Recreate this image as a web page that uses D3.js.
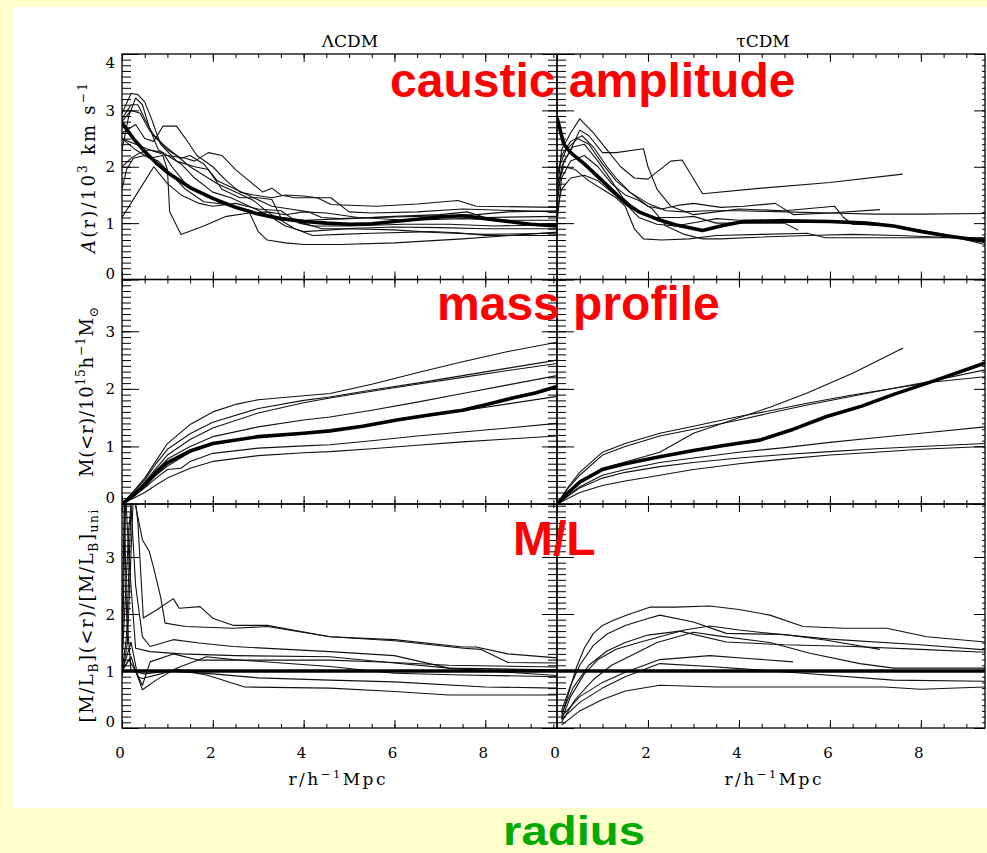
<!DOCTYPE html>
<html><head><meta charset="utf-8">
<script src="https://cdn.jsdelivr.net/npm/d3@7"></script>
<style>body{margin:0;background:#ffffcc}svg{display:block}</style>
</head><body><svg id="c" width="987" height="853"></svg>
<script>
// ---------- data ----------
const modelNames = ["\u039BCDM", "\u03C4CDM"];
const xTickLabels = [0, 2, 4, 6, 8];
const yTickLabelsAmp = [0, 1, 2, 3, 4];
const yTickLabelsMass = [0, 1, 2, 3];
const yTickLabelsML = [0, 1, 2, 3];
const panelTitles = ["caustic amplitude", "mass profile", "M/L"];
const bottomTitle = "radius";

// ΛCDM caustic amplitude  [r, A/10^3 km/s]
const lcdmAmpMean = [[0,2.78],[0.25,2.5],[0.5,2.27],[0.75,2.07],[1,1.9],[1.5,1.63],[2,1.44],[2.5,1.28],[3,1.16],[3.5,1.08],[4,1.03],[4.5,1.0],[5,0.98],[5.5,0.99],[6,1.03],[6.5,1.07],[7,1.11],[7.5,1.13],[8,1.08],[8.5,1.03],[9,0.98],[9.58,0.95]];
const lcdmAmpClusters = [
 [[0,2.95],[0.2,3.3],[0.35,3.28],[0.5,3.15],[0.65,2.85],[0.85,2.4],[1.2,2.1],[1.6,2.0],[1.9,1.95],[2.2,1.6],[2.6,1.45],[3.0,1.45],[3.3,1.42],[3.5,1.1],[4.0,1.05],[5,1.08],[6,1.12],[7,1.15],[7.6,1.2],[8.0,1.1],[9.58,1.12]],
 [[0,2.3],[0.15,2.9],[0.3,3.22],[0.45,3.1],[0.6,2.7],[0.8,2.3],[1.0,2.2],[1.3,2.05],[1.6,1.8],[2.0,1.55],[2.4,1.45],[2.8,1.3],[3.2,1.15],[3.6,0.95],[4.0,0.85],[5,0.9],[6,0.88],[7,0.83],[8,0.8],[9.58,0.82]],
 [[0,2.6],[0.3,2.75],[0.5,2.5],[0.7,2.45],[0.9,2.72],[1.2,2.72],[1.4,2.5],[1.65,2.2],[2.0,2.0],[2.3,1.75],[2.6,1.55],[2.9,1.5],[3.3,1.45],[3.6,1.5],[4.0,1.48],[4.3,1.45],[4.6,1.33],[5.6,1.3],[6.5,1.34],[7.4,1.4],[7.8,1.3],[9.58,1.28]],
 [[0,2.0],[0.2,2.15],[0.4,2.25],[0.6,2.3],[0.8,2.25],[1.0,2.2],[1.4,2.15],[1.6,2.1],[1.9,2.25],[2.2,2.2],[2.5,1.95],[2.8,1.75],[3.1,1.55],[3.3,1.62],[3.5,1.5],[3.8,1.45],[4.6,1.45],[5.0,1.2],[5.5,1.18],[6.5,1.2],[7.5,1.25],[9.58,1.2]],
 [[0,2.5],[0.3,2.3],[0.6,2.15],[0.9,2.2],[1.0,1.95],[1.05,1.2],[1.3,0.8],[1.8,0.95],[2.3,1.12],[2.8,1.18],[3.2,1.2],[3.6,1.15],[4.0,1.2],[4.5,1.18],[5.2,1.1],[6.3,1.05],[7.5,1.08],[8.5,1.05],[9.58,1.05]],
 [[0,1.1],[0.35,1.55],[0.7,2.0],[1.0,1.7],[1.3,1.5],[1.7,1.35],[2.0,1.3],[2.5,1.35],[3.0,1.25],[3.5,1.22],[3.9,1.0],[4.2,0.95],[5.0,0.95],[6.2,0.98],[7.2,0.98],[8.2,0.95],[9.58,0.97]],
 [[0,1.6],[0.1,1.95],[0.25,2.15],[0.5,2.2],[0.8,2.1],[1.1,1.85],[1.4,1.6],[1.8,1.38],[2.3,1.33],[2.8,1.2],[3.0,0.85],[3.2,0.7],[3.6,0.65],[4.0,0.62],[4.8,0.62],[6,0.65],[7.5,0.72],[9.58,0.84]],
 [[0,2.8],[0.2,3.0],[0.4,2.95],[0.6,2.65],[0.9,2.4],[1.2,2.2],[1.5,2.0],[1.8,1.85],[2.1,1.7],[2.5,1.55],[2.9,1.4],[3.2,1.2],[3.5,1.05],[3.8,0.9],[4.2,0.78],[4.8,0.8],[5.5,0.82],[6.8,0.85],[7.4,0.83],[8,0.78],[9.58,0.78]],
 [[0,2.85],[0.2,3.1],[0.35,3.1],[0.5,2.85],[0.7,2.55],[1.0,2.3],[1.3,2.15],[1.5,2.2],[1.8,2.05],[2.1,1.75],[2.5,1.6],[2.9,1.45],[3.3,1.3],[3.7,1.25],[4.1,1.2],[4.4,1.1],[4.8,1.08],[5.5,1.1],[6.5,1.12],[7.8,1.15],[8.5,1.2],[9.58,1.22]],
 [[0,2.5],[0.3,2.4],[0.6,2.3],[0.9,2.25],[1.1,2.0],[1.4,1.7],[1.8,1.5],[2.2,1.35],[2.6,1.25],[3.0,1.15],[3.5,1.1],[4.0,1.0],[4.4,0.9],[4.8,0.9],[6,0.93],[7,0.92],[8,0.9],[9.58,0.9]]
];

// τCDM caustic amplitude
const tcdmAmpMean = [[0,2.87],[0.15,2.4],[0.3,2.25],[0.6,2.05],[1.0,1.75],[1.5,1.36],[1.8,1.2],[2.2,1.07],[2.6,0.97],[3.2,0.87],[3.6,0.95],[4.1,1.03],[5,1.04],[6,1.03],[6.8,1.0],[7.4,0.95],[8,0.85],[8.6,0.77],[9.41,0.68]];
const tcdmAmpClusters = [
 [[0,1.5],[0.1,2.3],[0.3,2.6],[0.5,2.85],[0.8,2.6],[1.1,2.3],[1.4,2.0],[1.7,1.8],[2.0,1.78],[2.5,2.1],[2.75,2.12],[3.2,1.52],[4.5,1.62],[6,1.72],[7.6,1.87]],
 [[0,1.3],[0.1,2.0],[0.3,2.3],[0.5,2.65],[0.7,2.55],[1.0,2.25],[1.3,2.25],[1.9,2.32],[2.0,2.0],[2.2,1.6],[2.5,1.3],[3.0,1.15],[3.5,1.2],[4.0,1.25],[5,1.22],[6.1,1.3],[6.3,1.1],[6.5,0.98],[7.5,0.95],[8.5,0.8],[9.41,0.62]],
 [[0,1.8],[0.1,2.2],[0.3,2.45],[0.55,2.55],[0.8,2.35],[1.1,2.0],[1.3,1.8],[1.6,1.55],[2.0,1.3],[2.3,1.25],[2.7,1.32],[3.0,1.35],[3.6,1.28],[4.1,1.3],[4.8,1.35],[5.2,1.15],[6,1.18],[7.1,1.24]],
 [[0,1.0],[0.1,1.8],[0.3,2.1],[0.6,2.2],[0.9,2.0],[1.2,1.7],[1.5,1.5],[1.8,1.4],[2.1,1.25],[2.4,0.95],[2.8,0.8],[3.2,0.72],[3.6,0.72],[4.4,0.75],[5.5,0.78],[6.5,0.8],[7.5,0.78],[8.5,0.75],[9.41,0.74]],
 [[0,1.5],[0.15,2.1],[0.35,2.35],[0.6,2.4],[0.9,2.1],[1.2,1.75],[1.45,1.45],[1.7,1.25],[2.1,1.1],[2.7,1.1],[3.0,1.12],[3.5,1.0],[4.2,1.0],[5.0,1.0],[5.3,0.88]],
 [[0,1.7],[0.15,2.0],[0.4,1.95],[0.7,1.75],[1.0,1.6],[1.3,1.45],[1.5,1.3],[1.7,0.9],[1.9,0.72],[2.3,0.7],[2.9,0.72],[3.5,0.78],[4.5,0.8],[5.5,0.82],[5.9,0.74],[7,0.74],[8.5,0.74],[9.41,0.73]],
 [[0,1.9],[0.2,2.3],[0.45,2.5],[0.7,2.4],[1.0,2.05],[1.3,1.75],[1.6,1.55],[2.0,1.35],[2.4,1.22],[2.8,1.2],[3.3,1.22],[4.0,1.22],[5,1.2],[6,1.18],[7,1.16],[8,1.16],[9.41,1.17]],
 [[0,1.2],[0.1,1.6],[0.3,1.8],[0.6,1.85],[0.9,1.75],[1.2,1.55],[1.5,1.35],[1.8,1.1],[2.2,0.98],[2.6,0.95],[3.1,1.02],[3.5,1.08],[4.0,1.05],[4.5,1.05],[5,1.07]]
];

// ΛCDM mass profile  [r, M/10^15]
const lcdmMassMean = [[0,0],[0.25,0.15],[0.5,0.33],[0.75,0.55],[1,0.72],[1.5,0.92],[2,1.05],[3,1.17],[4,1.23],[4.58,1.27],[5.3,1.35],[6.05,1.46],[6.8,1.55],[7.5,1.63],[8.1,1.74],[8.6,1.84],[9.1,1.93],[9.58,2.04]];
const lcdmMassClusters = [
 [[0,0],[0.25,0.22],[0.5,0.45],[0.75,0.75],[1,1.05],[1.5,1.38],[2,1.6],[2.5,1.73],[3,1.81],[4,1.88],[4.58,1.92],[5.5,2.08],[6.5,2.28],[7.5,2.47],[8.5,2.65],[9.58,2.81]],
 [[0,0],[0.25,0.2],[0.5,0.42],[0.75,0.7],[1,0.95],[1.5,1.22],[2,1.42],[3,1.66],[4,1.8],[4.58,1.86],[5.5,1.98],[6.5,2.1],[7.5,2.23],[8.5,2.36],[9.58,2.5]],
 [[0,0],[0.25,0.18],[0.5,0.36],[0.75,0.58],[1,0.78],[1.5,1.0],[2,1.17],[3,1.34],[4,1.46],[4.58,1.51],[5.5,1.63],[6.5,1.77],[7.5,1.92],[8.5,2.07],[9.58,2.23]],
 [[0,0],[0.25,0.14],[0.5,0.3],[0.75,0.5],[1,0.66],[1.5,0.9],[2,1.04],[3,1.16],[4,1.23],[4.58,1.27],[5.5,1.38],[6.5,1.5],[7.5,1.62],[8.5,1.74],[9.58,1.87]],
 [[0,0],[0.25,0.13],[0.5,0.28],[0.75,0.45],[1,0.6],[1.3,0.62],[1.5,0.74],[2,0.88],[3,0.97],[4,1.01],[4.58,1.03],[5.5,1.1],[6.5,1.18],[7.5,1.25],[8.5,1.32],[9.58,1.4]],
 [[0,0],[0.25,0.1],[0.5,0.2],[0.75,0.33],[1,0.45],[1.5,0.62],[2,0.74],[3,0.84],[4,0.89],[4.58,0.91],[5.5,0.96],[6.5,1.02],[7.5,1.08],[8.5,1.13],[9.58,1.18]],
 [[0,0],[0.25,0.17],[0.5,0.38],[0.75,0.62],[1,0.85],[1.5,1.12],[2,1.32],[3,1.58],[4,1.76],[4.58,1.84],[5.5,1.96],[6.5,2.08],[7.5,2.2],[8.5,2.32],[9.58,2.44]]
];

// τCDM mass profile
const tcdmMassMean = [[0,0],[0.25,0.2],[0.5,0.38],[1,0.6],[1.5,0.7],[2.26,0.82],[3,0.93],[3.7,1.02],[4.46,1.11],[5.2,1.3],[5.93,1.52],[6.7,1.7],[7.39,1.9],[8.4,2.17],[9.41,2.45]];
const tcdmMassClusters = [
 [[0,0],[0.25,0.3],[0.5,0.55],[1,0.9],[1.5,1.05],[2.26,1.23],[3.0,1.35],[4.0,1.52],[4.68,1.62],[5.5,1.75],[6.4,1.88],[7,1.96],[8.27,2.12],[9.41,2.21]],
 [[0,0],[0.25,0.28],[0.5,0.5],[1,0.85],[1.5,1.0],[2.26,1.18],[3,1.3],[4,1.46],[4.68,1.58],[5.5,1.72],[6.4,1.86],[7.0,1.95],[8.27,2.14],[9.41,2.33]],
 [[0,0],[0.25,0.22],[0.5,0.4],[1,0.62],[1.5,0.73],[2.26,0.9],[3,1.23],[4,1.5],[4.68,1.68],[5.5,1.93],[6.5,2.27],[7.61,2.71]],
 [[0,0],[0.5,0.3],[1,0.5],[1.5,0.6],[2.26,0.72],[3,0.8],[4,0.9],[5,0.98],[6,1.07],[7,1.15],[8,1.23],[9.41,1.34]],
 [[0,0],[0.5,0.28],[1,0.45],[1.5,0.55],[2.26,0.65],[3,0.72],[4,0.8],[5,0.86],[6,0.91],[7,0.96],[8,1.0],[9.41,1.05]],
 [[0,0],[0.5,0.2],[1,0.32],[1.5,0.4],[2.26,0.5],[3,0.6],[4,0.7],[5,0.78],[6,0.85],[7,0.9],[8,0.95],[9.41,1.0]]
];

// ΛCDM mass-to-light ratio
const lcdmMLMean = [[0,1],[9.58,1]];
const lcdmMLClusters = [
 [[0,0.9],[0.12,1.5],[0.25,4.1],[0.35,3.7],[0.45,3.3],[0.6,3.1],[0.7,2.8],[0.85,2.3],[0.95,1.84],[1.4,1.78],[2.45,1.75],[3.2,1.78],[4.58,1.6],[6,1.55],[7.5,1.42],[7.8,1.42],[8.5,1.3],[9.58,1.23]],
 [[0,1.1],[0.15,3.5],[0.25,4.3],[0.35,3.6],[0.47,1.93],[0.76,2.07],[1.13,2.27],[1.26,2.1],[1.72,2.13],[2.01,1.92],[2.46,1.8],[3.2,1.8],[4.58,1.6],[6,1.53],[7.52,1.4],[7.9,1.38],[8.5,1.15],[9.58,1.14]],
 [[0,1.0],[0.1,1.6],[0.2,3.9],[0.3,2.5],[0.45,1.6],[0.62,1.43],[1.13,1.55],[1.7,1.49],[2.45,1.43],[4.58,1.34],[6,1.27],[7.2,1.05],[9.58,0.92]],
 [[0,1.0],[0.08,4.1],[0.15,3.0],[0.3,1.4],[0.62,1.34],[1.3,1.3],[2.5,1.27],[4.58,1.25],[6,1.14],[7.2,1.05],[9.58,1.02]],
 [[0,1.0],[0.2,1.25],[0.3,1.0],[0.45,0.75],[0.62,1.16],[1.13,1.3],[1.7,1.19],[4.58,1.19],[6,1.15],[7.2,1.1],[9.58,1.07]],
 [[0,1.0],[0.15,1.2],[0.3,1.0],[0.45,0.67],[0.75,0.84],[1.2,1.05],[1.86,1.25],[2.45,1.2],[4.58,1.08],[6,0.96],[7.5,0.93],[9.58,0.9]],
 [[0,1.0],[0.2,1.5],[0.35,0.9],[0.45,0.87],[0.85,0.95],[1.2,1.03],[1.9,0.92],[2.7,0.72],[4.58,0.7],[6,0.64],[7.2,0.58],[9.58,0.58]],
 [[0,1.2],[0.05,4.1],[0.1,2.0],[0.2,1.0],[0.5,0.95],[1.0,1.0],[2,0.95],[3,0.88],[4.58,0.84],[6,0.81],[8,0.72],[9.58,0.7]]
];

// τCDM mass-to-light ratio
const tcdmMLMean = [[0,1],[9.41,1]];
const tcdmMLClusters = [
 [[0.1,0.2],[0.25,0.6],[0.43,1.07],[0.6,1.4],[0.8,1.66],[1.0,1.8],[1.24,1.89],[1.6,2.0],[2.04,2.12],[2.6,2.12],[3.36,2.14],[4.0,2.08],[4.68,1.98],[5.41,1.78],[6.3,1.75],[7.25,1.75],[8.13,1.6],[9.41,1.51]],
 [[0.1,0.3],[0.3,0.75],[0.5,1.1],[0.8,1.45],[1.1,1.65],[1.5,1.8],[2.0,1.92],[2.26,1.98],[3.0,1.86],[3.72,1.66],[5.0,1.64],[5.93,1.54],[7.1,1.38]],
 [[0.1,0.15],[0.3,0.55],[0.6,0.95],[0.9,1.2],[1.3,1.38],[1.8,1.5],[2.26,1.6],[2.8,1.72],[3.36,1.79],[4.0,1.72],[4.68,1.66],[6,1.56],[7.98,1.46],[9.41,1.37]],
 [[0.1,0.25],[0.35,0.7],[0.7,1.1],[1.1,1.35],[1.5,1.5],[2.0,1.63],[2.7,1.7],[3.72,1.51],[5.0,1.46],[6.5,1.43],[8,1.38],[9.41,1.33]],
 [[0.1,0.1],[0.4,0.5],[0.8,0.85],[1.2,1.1],[1.7,1.3],[2.2,1.5],[3.0,1.68],[3.5,1.62],[4.68,1.5],[5.56,1.31],[6.66,1.13],[7.4,1.05],[9.41,1.05]],
 [[0.1,0.2],[0.5,0.55],[1.0,0.8],[1.5,0.98],[2.26,1.2],[3.36,1.27],[4.2,1.22],[5.19,1.16]],
 [[0.1,0.15],[0.5,0.45],[1.0,0.7],[1.5,0.9],[2.26,1.13],[3.36,1.08],[4.4,1.02],[5.41,0.96],[7.39,0.84],[9.41,0.82]],
 [[0.1,0.05],[0.5,0.3],[1.0,0.5],[1.5,0.65],[2.26,0.75],[3.5,0.72],[5,0.72],[7.2,0.72],[8,0.68],[9.41,0.72]]
];

// ---------- layout ----------
const W = 987, H = 853;
const colRange = [[122, 557], [557, 985]];
const colMax = [9.58, 9.41];
const rowRange = [[54, 279.5], [279.5, 504], [504, 728]];
const rowMax = [4, 3.9, 3.93];

const svg = d3.select("#c");
svg.append("rect").attr("x", 0).attr("y", 0).attr("width", W).attr("height", H).attr("fill", "#ffffcc");
svg.append("rect").attr("x", 13).attr("y", 7).attr("width", W - 13).attr("height", 801).attr("fill", "#ffffff");

const panels = [
  {row: 0, col: 0, mean: lcdmAmpMean, clusters: lcdmAmpClusters, yt: yTickLabelsAmp},
  {row: 0, col: 1, mean: tcdmAmpMean, clusters: tcdmAmpClusters, yt: yTickLabelsAmp},
  {row: 1, col: 0, mean: lcdmMassMean, clusters: lcdmMassClusters, yt: yTickLabelsMass},
  {row: 1, col: 1, mean: tcdmMassMean, clusters: tcdmMassClusters, yt: yTickLabelsMass},
  {row: 2, col: 0, mean: lcdmMLMean, clusters: lcdmMLClusters, yt: yTickLabelsML},
  {row: 2, col: 1, mean: tcdmMLMean, clusters: tcdmMLClusters, yt: yTickLabelsML}
];

const serif = "'DejaVu Serif', 'Liberation Serif', serif";

function noDomain(s) { s.select(".domain").remove(); s.selectAll("line").attr("stroke", "#000").attr("stroke-width", 1); }

panels.forEach((p, i) => {
  const x = d3.scaleLinear().domain([0, colMax[p.col]]).range(colRange[p.col]);
  const y = d3.scaleLinear().domain([0, rowMax[p.row]]).range([rowRange[p.row][1], rowRange[p.row][0]]);
  const [x0, x1] = colRange[p.col];
  const [yTop, yBot] = rowRange[p.row];
  const g = svg.append("g");
  const cid = "clip" + i;
  svg.append("clipPath").attr("id", cid).append("rect")
    .attr("x", x0).attr("y", yTop).attr("width", x1 - x0).attr("height", yBot - yTop);

  const line = d3.line().x(d => x(d[0])).y(d => y(d[1]));
  const lg = g.append("g").attr("clip-path", `url(#${cid})`);
  lg.selectAll("path.thin").data(p.clusters).join("path").attr("class", "thin")
    .attr("d", line).attr("fill", "none").attr("stroke", "#111").attr("stroke-width", 1.1)
    .attr("stroke-linejoin", "round");
  lg.append("path").datum(p.mean).attr("d", line).attr("fill", "none")
    .attr("stroke", "#000").attr("stroke-width", 3.6).attr("stroke-linejoin", "round");

  // ticks
  const xMinor = d3.range(0, colMax[p.col] + 1e-9, 0.5);
  const xMajor = xTickLabels;
  const yMinor = d3.range(0, rowMax[p.row] + 1e-9, 0.1).map(v => +v.toFixed(2));
  const yMajor = p.yt;

  g.append("g").attr("transform", `translate(0,${yBot})`)
    .call(d3.axisBottom(x).tickValues(xMinor).tickSize(-4).tickFormat("")).call(noDomain);
  g.append("g").attr("transform", `translate(0,${yBot})`)
    .call(d3.axisBottom(x).tickValues(xMajor).tickSize(-8).tickFormat("")).call(noDomain);
  g.append("g").attr("transform", `translate(0,${yTop})`)
    .call(d3.axisTop(x).tickValues(xMinor).tickSize(-4).tickFormat("")).call(noDomain);
  g.append("g").attr("transform", `translate(0,${yTop})`)
    .call(d3.axisTop(x).tickValues(xMajor).tickSize(-8).tickFormat("")).call(noDomain);

  g.append("g").attr("transform", `translate(${x0},0)`)
    .call(d3.axisLeft(y).tickValues(yMinor).tickSize(-9).tickFormat("")).call(noDomain);
  g.append("g").attr("transform", `translate(${x0},0)`)
    .call(d3.axisLeft(y).tickValues(yMajor).tickSize(-17).tickFormat("")).call(noDomain);
  const rMinor = p.col === 0 ? -9 : -3, rMajor = p.col === 0 ? -15 : -11;
  g.append("g").attr("transform", `translate(${x1},0)`)
    .call(d3.axisRight(y).tickValues(yMinor).tickSize(rMinor).tickFormat("")).call(noDomain);
  g.append("g").attr("transform", `translate(${x1},0)`)
    .call(d3.axisRight(y).tickValues(yMajor).tickSize(rMajor).tickFormat("")).call(noDomain);

  g.append("rect").attr("x", x0).attr("y", yTop).attr("width", x1 - x0).attr("height", yBot - yTop)
    .attr("fill", "none").attr("stroke", "#000").attr("stroke-width", 1.3);

  // y tick labels (left column only)
  if (p.col === 0) {
    g.selectAll("text.yl").data(yMajor).join("text").attr("class", "yl")
      .attr("x", x0 - 7)
      .attr("y", v => {
        const py = y(v);
        if (py - yTop < 6) return yTop + 14;
        if (yBot - py < 6) return yBot - 1;
        return py + 5.5;
      })
      .attr("text-anchor", "end").attr("font-family", serif).attr("font-size", 15).attr("fill", "#000")
      .text(v => v);
  }
  // x tick labels (bottom row only)
  if (p.row === 2) {
    g.selectAll("text.xl").data(xMajor).join("text").attr("class", "xl")
      .attr("x", v => x(v) - 2).attr("y", 758)
      .attr("text-anchor", "middle").attr("font-family", serif).attr("font-size", 15).attr("fill", "#000")
      .text(v => v);
  }
});

// ---------- rich text helper ----------
function rich(parent, parts, fs) {
  const t = parent.append("text").attr("font-family", serif).attr("font-size", fs).attr("fill", "#000");
  let off = 0;
  parts.forEach(pt => {
    const sp = t.append("tspan").text(pt.t);
    let target = 0, size = fs;
    if (pt.s === "sup") { target = -fs * 0.42; size = fs * 0.68; }
    if (pt.s === "sub") { target = fs * 0.28; size = fs * 0.68; }
    sp.attr("dy", target - off).attr("font-size", size);
    if (pt.it) sp.attr("font-style", "italic");
    off = target;
  });
  return t;
}

// titles
svg.append("text").attr("x", 350).attr("y", 47).attr("text-anchor", "middle")
  .attr("font-family", serif).attr("font-size", 17).text(modelNames[0]);
svg.append("text").attr("x", 763).attr("y", 47).attr("text-anchor", "middle")
  .attr("font-family", serif).attr("font-size", 17).text(modelNames[1]);

// x axis titles
[337, 773].forEach(cx => {
  rich(svg, [{t: "r/h"}, {t: "\u22121", s: "sup"}, {t: "Mpc"}], 17)
    .attr("x", cx).attr("y", 785).attr("text-anchor", "middle")
    .attr("textLength", 97).attr("lengthAdjust", "spacing");
});

// y axis titles
const yt1 = rich(svg.append("g").attr("transform", "translate(95,168) rotate(-90)"),
  [{t: "A", it: true}, {t: "(r)/10"}, {t: "3", s: "sup"}, {t: " km s"}, {t: "\u22121", s: "sup"}], 18);
yt1.attr("text-anchor", "middle").attr("textLength", 170).attr("lengthAdjust", "spacing");
const yt2 = rich(svg.append("g").attr("transform", "translate(93,392) rotate(-90)"),
  [{t: "M(<r)/10"}, {t: "15", s: "sup"}, {t: "h"}, {t: "\u22121", s: "sup"}, {t: "M"}, {t: "\u2299", s: "sub"}], 18);
yt2.attr("text-anchor", "middle").attr("textLength", 170).attr("lengthAdjust", "spacing");
const yt3 = rich(svg.append("g").attr("transform", "translate(93,616) rotate(-90)"),
  [{t: "[M/L"}, {t: "B", s: "sub"}, {t: "](<r)/[M/L"}, {t: "B", s: "sub"}, {t: "]"}, {t: "uni", s: "sub"}], 18);
yt3.attr("text-anchor", "middle").attr("textLength", 213).attr("lengthAdjust", "spacing");

// red annotation labels
const sans = "'Liberation Sans', Arial, Helvetica, sans-serif";
const redPos = [[390, 97], [437, 320], [513, 555]];
panelTitles.forEach((t, i) => {
  svg.append("text").attr("x", redPos[i][0]).attr("y", redPos[i][1])
    .attr("font-family", sans).attr("font-weight", "bold").attr("font-size", 48)
    .attr("fill", "#ff0000").text(t);
});
svg.append("text").attr("x", 503).attr("y", 845)
  .attr("font-family", sans).attr("font-weight", "bold").attr("font-size", 40)
  .attr("textLength", 142).attr("lengthAdjust", "spacingAndGlyphs")
  .attr("fill", "#00aa00").text(bottomTitle);
</script></body></html>
